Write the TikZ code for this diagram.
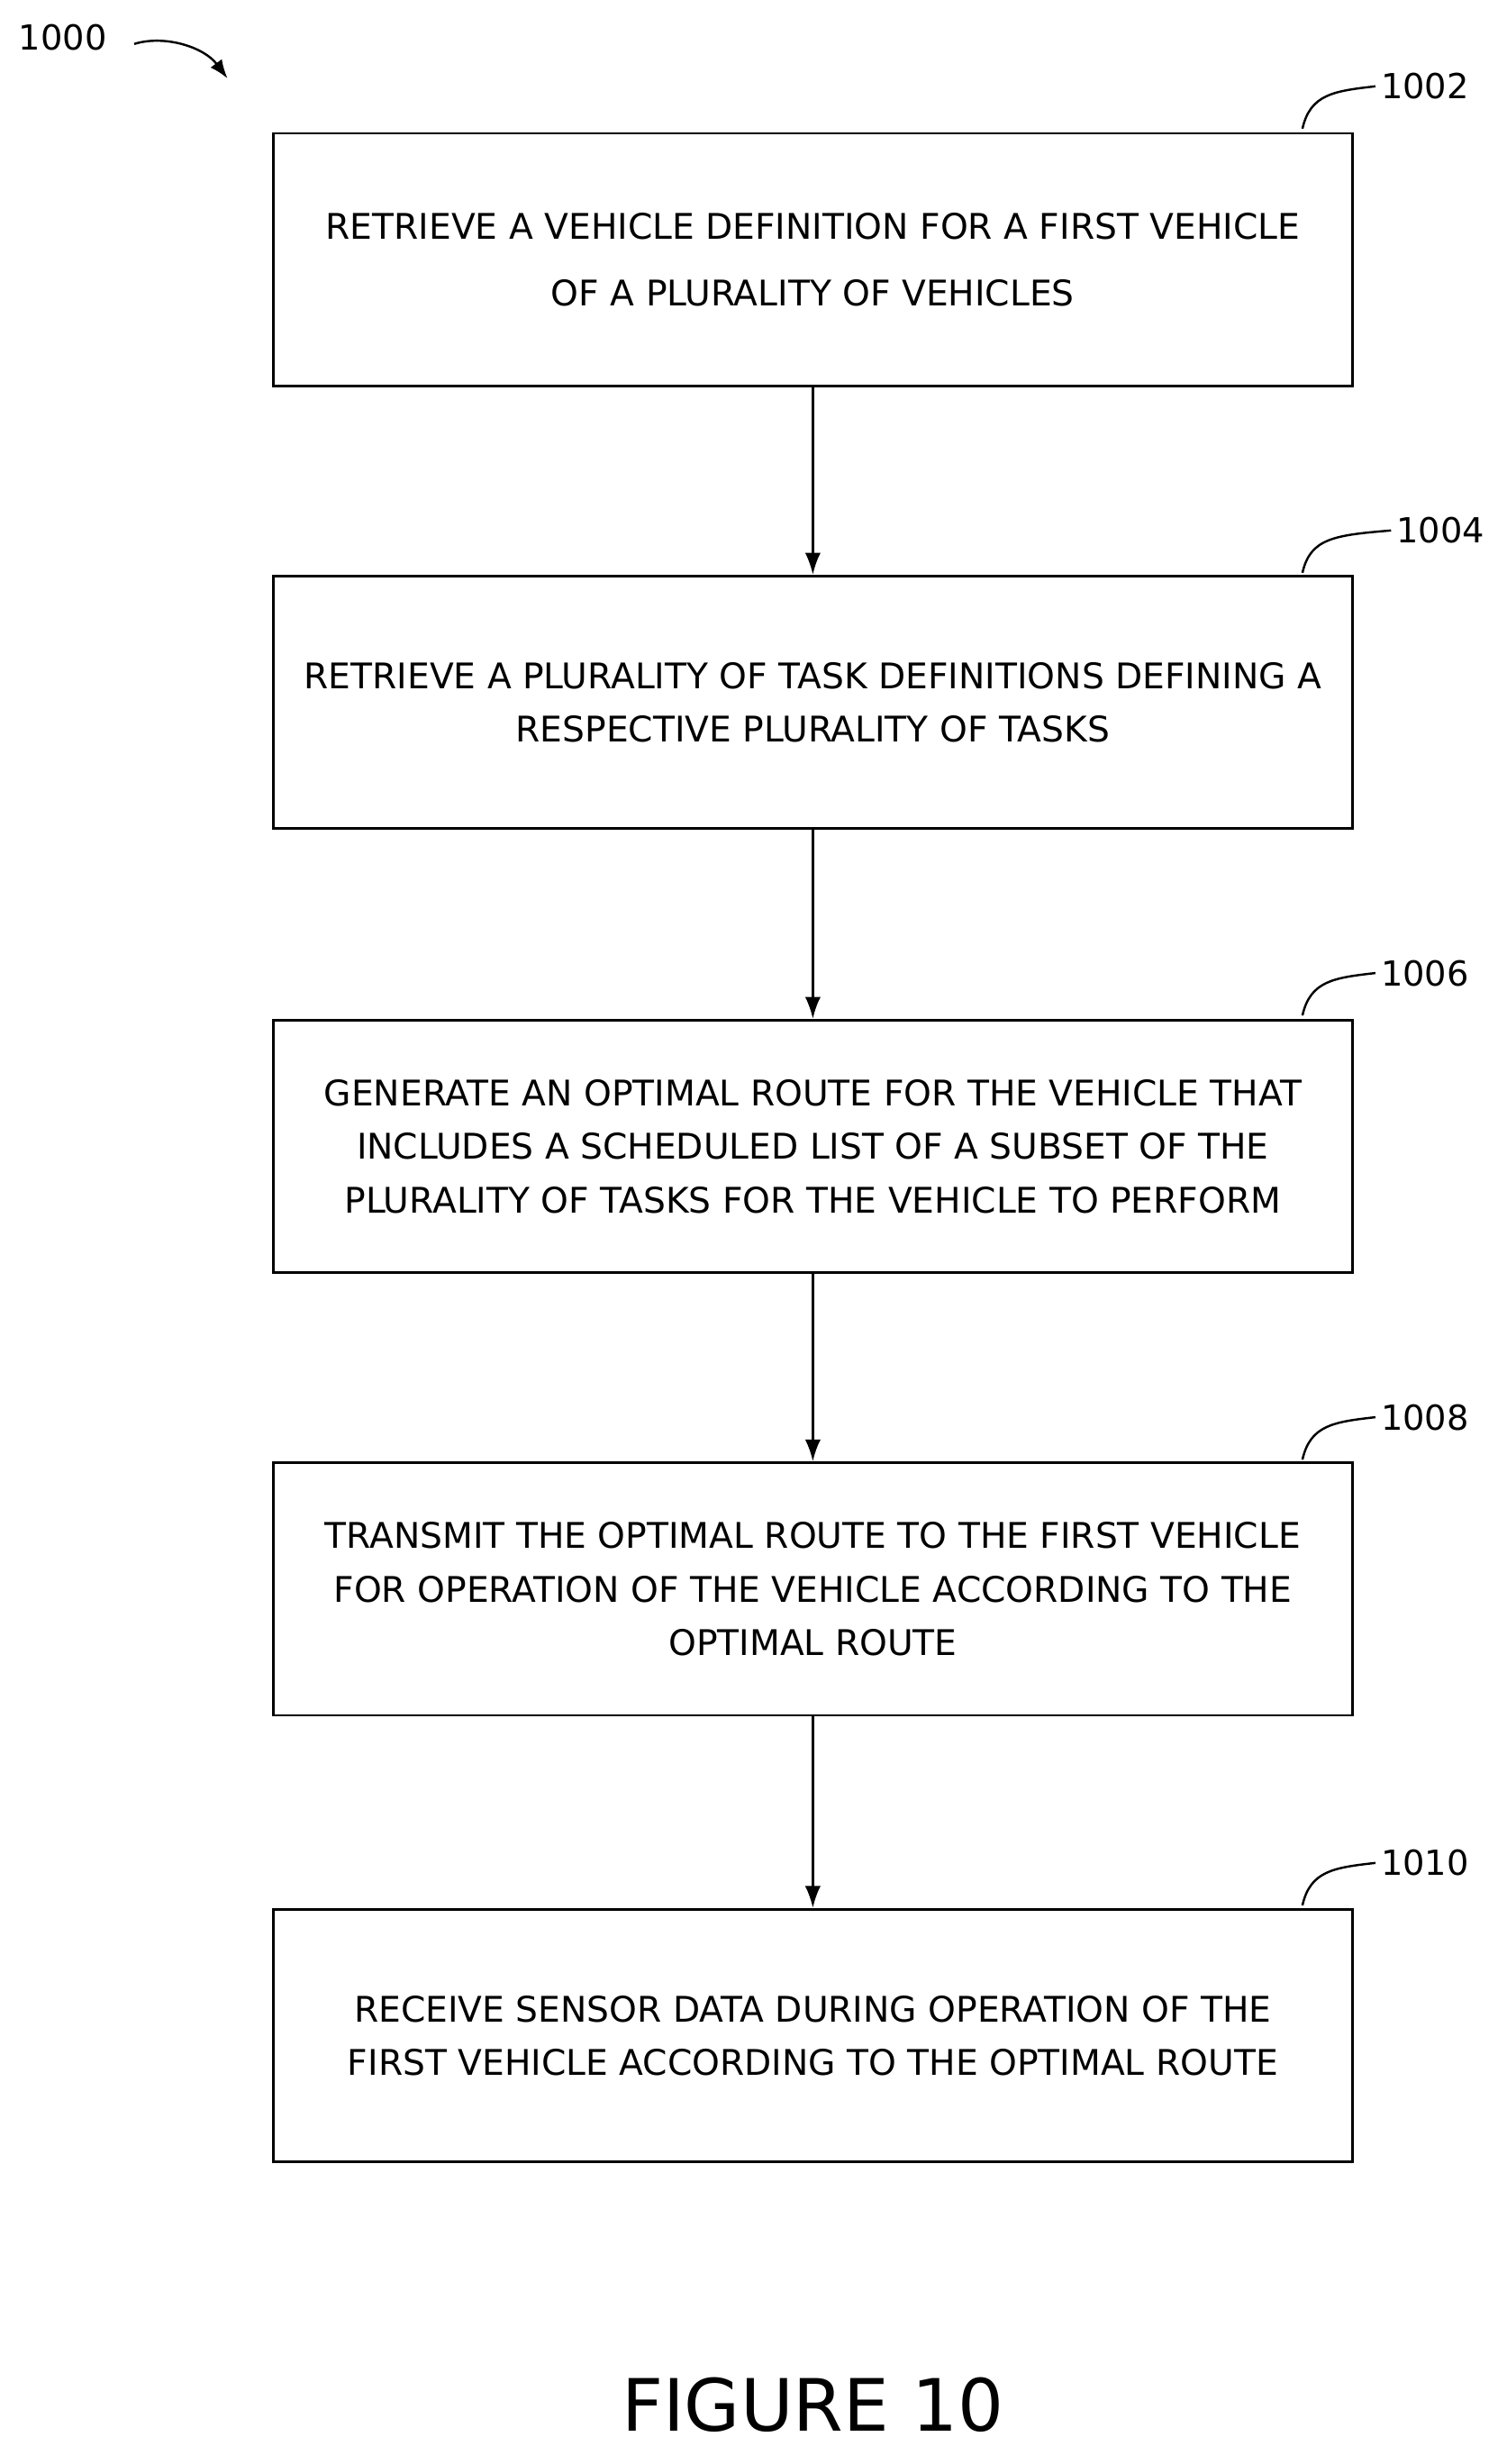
\documentclass[tikz,border=0pt]{standalone}
\usepackage{fontspec}
\setmainfont{DejaVu Sans}
\usetikzlibrary{arrows.meta}
\begin{document}
\begin{tikzpicture}[x=1pt,y=-1pt,
 box/.style={draw,line width=1.6pt,minimum width=688pt,minimum height=161pt,align=center,font=\fontsize{22.5}{34}\selectfont,inner sep=0pt},
 lab/.style={font=\fontsize{22}{26}\selectfont},
 arr/.style={-{Latex[length=14pt,width=10pt]},line width=1.6pt}]
\useasboundingbox (0,0) rectangle (960,1570);
\node[box] (b1) at (518,165.5) {RETRIEVE A VEHICLE DEFINITION FOR A FIRST VEHICLE\\[8pt]OF A PLURALITY OF VEHICLES};
\node[box] (b2) at (518,447.5) {RETRIEVE A PLURALITY OF TASK DEFINITIONS DEFINING A\\RESPECTIVE PLURALITY OF TASKS};
\node[box] (b3) at (518,730.5) {GENERATE AN OPTIMAL ROUTE FOR THE VEHICLE THAT\\INCLUDES A SCHEDULED LIST OF A SUBSET OF THE\\PLURALITY OF TASKS FOR THE VEHICLE TO PERFORM};
\node[box] (b4) at (518,1012.5) {TRANSMIT THE OPTIMAL ROUTE TO THE FIRST VEHICLE\\FOR OPERATION OF THE VEHICLE ACCORDING TO THE\\OPTIMAL ROUTE};
\node[box] (b5) at (518,1297) {RECEIVE SENSOR DATA DURING OPERATION OF THE\\FIRST VEHICLE ACCORDING TO THE OPTIMAL ROUTE};
\foreach \a/\b in {b1/b2,b2/b3,b3/b4,b4/b5} \draw[arr] (\a) -- (\b);
\foreach \n/\y/\t/\xx in {b1/55/1002/908,b2/338/1004/918,b3/620/1006/908,b4/903/1008/908,b5/1187/1010/908}{
 \node[lab] (l\n) at (\xx,\y) {\t};
 \draw[line width=1.4pt] (830,\y+27) .. controls (835,\y+5) and (850,\y+3) .. (l\n.west);
}
\node[lab] (l0) at (40,24) {1000};
\coordinate (c0) at (145,50);
\draw[-{Latex[length=12pt,width=9pt]},line width=1.4pt] (l0.east) ++(14,4) .. controls (105,22) and (130,30) .. (c0);
\node[font=\fontsize{46}{52}\selectfont] (fig) at (518,1532) {FIGURE 10};
\end{tikzpicture}
\end{document}
